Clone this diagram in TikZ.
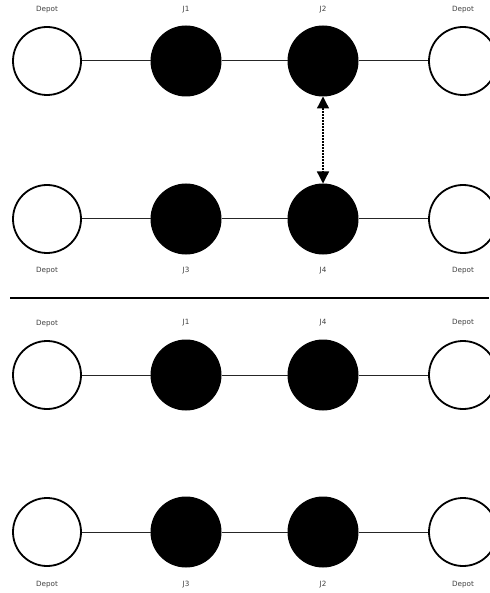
\documentclass[tikz,border=0pt]{standalone}
\usepackage{fontspec}
\setmainfont{DejaVu Sans}
\usetikzlibrary{arrows.meta}
\begin{document}
\begin{tikzpicture}[x=1pt,y=-1pt,
  depot/.style={circle,draw=black,line width=1.8pt,fill=white,minimum size=68pt,inner sep=0pt},
  job/.style={circle,fill=black,draw=black,line width=1pt,minimum size=70pt,inner sep=0pt},
  lbl/.style={font=\fontsize{7.2}{8}\selectfont,text=black!75,inner sep=0pt},
  link/.style={line width=1pt,draw=black!85},
  swap/.style={line width=1.3pt,dash pattern=on 2pt off 1pt,{Triangle[width=12pt,length=12pt]}-{Triangle[width=12pt,length=12pt]}}]
\useasboundingbox (0,0) rectangle (489,593);
% row 1
\node[depot] (a1) at (47,61) {};
\node[job] (b1) at (186,61) {};
\node[job] (c1) at (323,61) {};
\node[depot] (d1) at (463,61) {};
\node[lbl] (la1) at (47,10) {Depot};
\node[lbl] (lb1) at (186,10) {J1};
\node[lbl] (lc1) at (323,10) {J2};
\node[lbl] (ld1) at (463,10) {Depot};
% row 2
\node[depot] (a2) at (47,219) {};
\node[job] (b2) at (186,219) {};
\node[job] (c2) at (323,219) {};
\node[depot] (d2) at (463,219) {};
\node[lbl] (la2) at (47,271) {Depot};
\node[lbl] (lb2) at (186,271) {J3};
\node[lbl] (lc2) at (323,271) {J4};
\node[lbl] (ld2) at (463,271) {Depot};
% separator
\coordinate (s1) at (10,298);
\coordinate (s2) at (489,298);
\draw[line width=1.2pt] (s1) -- (s2);
% row 3
\node[depot] (a3) at (47,375) {};
\node[job] (b3) at (186,375) {};
\node[job] (c3) at (323,375) {};
\node[depot] (d3) at (463,375) {};
\node[lbl] (la3) at (47,324) {Depot};
\node[lbl] (lb3) at (186,323) {J1};
\node[lbl] (lc3) at (323,323) {J4};
\node[lbl] (ld3) at (463,323) {Depot};
% row 4
\node[depot] (a4) at (47,532) {};
\node[job] (b4) at (186,532) {};
\node[job] (c4) at (323,532) {};
\node[depot] (d4) at (463,532) {};
\node[lbl] (la4) at (47,585) {Depot};
\node[lbl] (lb4) at (186,585) {J3};
\node[lbl] (lc4) at (323,585) {J2};
\node[lbl] (ld4) at (463,585) {Depot};
% links
\foreach \r in {1,2,3,4}{
  \draw[link] (a\r) -- (b\r);
  \draw[link] (b\r) -- (c\r);
  \draw[link] (c\r) -- (d\r);
}
% swap arrow
\draw[swap] (c1) -- (c2);
\end{tikzpicture}
\end{document}
